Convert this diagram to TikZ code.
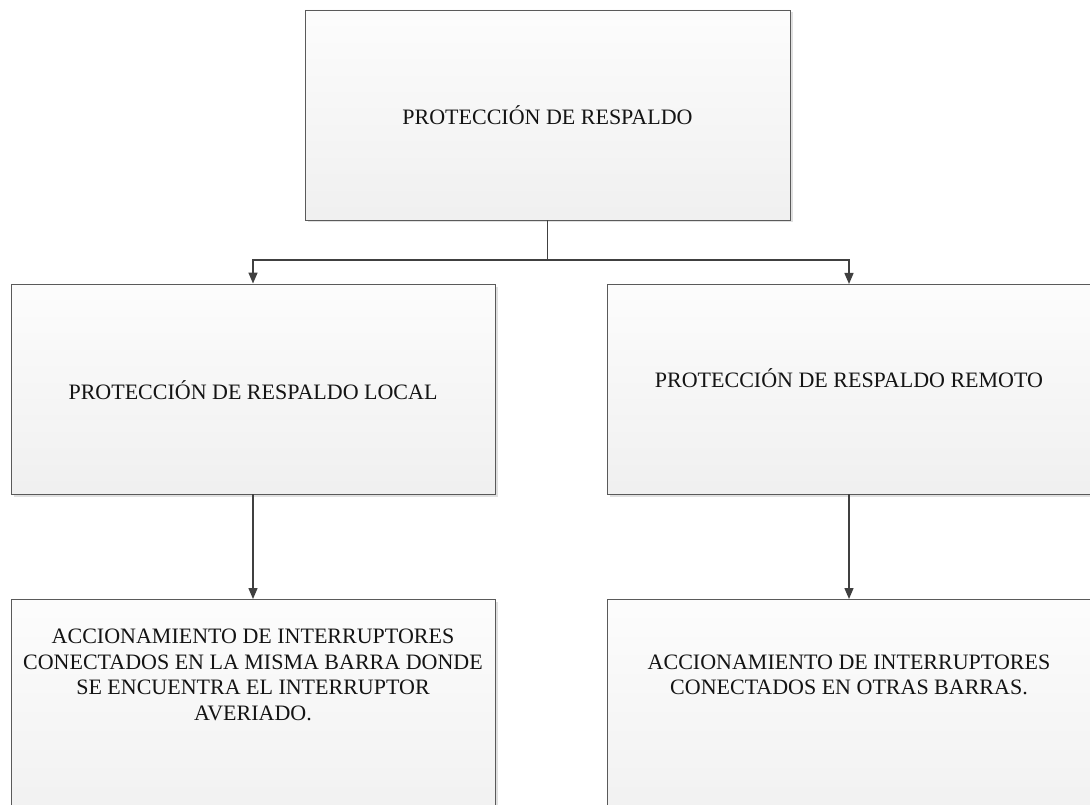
\documentclass[tikz,border=0pt]{standalone}
\usepackage{fontspec}
\setmainfont{Liberation Serif}
\usetikzlibrary{shadows,arrows.meta}
\definecolor{edgegray}{HTML}{5A5A5A}
\definecolor{linkgray}{HTML}{404040}
\tikzset{
  box/.style={draw=edgegray, line width=0.9pt, rectangle, inner sep=0pt,
    top color=white!99!black, bottom color=black!6,
    drop shadow={shadow xshift=2.5pt, shadow yshift=-2.5pt, fill=black!12, opacity=1}},
  label/.style={align=center, font=\fontsize{22}{25.5}\selectfont, text=black!92},
  link/.style={draw=linkgray, line width=1.4pt, -{Triangle[length=11pt,width=9pt]}},
  plain/.style={draw=linkgray, line width=1.4pt}
}
\begin{document}
\begin{tikzpicture}[x=1pt,y=-1pt]
\useasboundingbox (0,0) rectangle (1090,805);
\clip (0,0) rectangle (1090,805);
% top level
\node[box, minimum width=485pt, minimum height=210pt] (top) at (547.5,115) {};
\node[label] (toptxt) at (top.center) {PROTECCIÓN DE RESPALDO};
% second level
\node[box, minimum width=484pt, minimum height=210pt] (loc) at (253,389) {};
\node[label] (loctxt) at (253,390) {PROTECCIÓN DE RESPALDO LOCAL};
\node[box, minimum width=490pt, minimum height=210pt, anchor=west] (rem) at (607,389) {};
\node[label] (remtxt) at (849,378) {PROTECCIÓN DE RESPALDO REMOTO};
% third level (boxes run past the lower edge)
\node[box, minimum width=484pt, minimum height=240pt, anchor=north] (locact) at (253,599) {};
\node[label] (locacttxt) at (253,675) {ACCIONAMIENTO DE INTERRUPTORES\\CONECTADOS EN LA MISMA BARRA DONDE\\SE ENCUENTRA EL INTERRUPTOR\\AVERIADO.};
\node[box, minimum width=490pt, minimum height=240pt, anchor=north west] (remact) at (607,599) {};
\node[label] (remacttxt) at (849,675) {ACCIONAMIENTO DE INTERRUPTORES\\CONECTADOS EN OTRAS BARRAS.};
% connectors
\coordinate (split) at (547.5,260);
\coordinate (remin) at (849,284);
\coordinate (remout) at (849,494);
\coordinate (remactin) at (849,599);
\draw[plain] (top.south) -- (split);
\draw[link] (split) -| (loc.north);
\draw[link] (split) -| (remin);
\draw[link] (loc.south) -- (locact.north);
\draw[link] (remout) -- (remactin);
\end{tikzpicture}
\end{document}
